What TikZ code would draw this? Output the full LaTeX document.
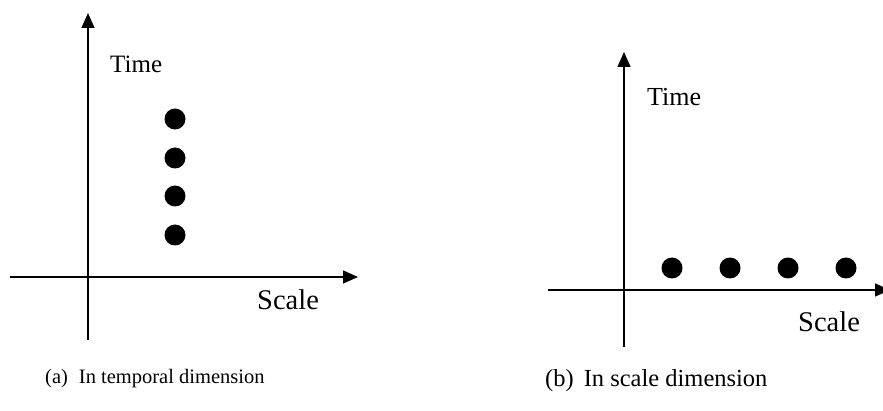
\documentclass[tikz,border=0pt]{standalone}
\usepackage{fontspec}
\setmainfont{Liberation Serif}
\usetikzlibrary{arrows.meta,positioning}

\begin{document}
\begin{tikzpicture}[
  x=1pt, y=-1pt,
  axis/.style={line width=1.4pt, -{Triangle[length=15pt,width=13pt]}},
  dot/.style={circle, fill=black, inner sep=0pt, minimum size=21pt},
  axlabel/.style={font=\fontsize{25}{27}\selectfont, inner sep=0pt},
  sclabel/.style={font=\fontsize{28.5}{30}\selectfont, inner sep=0pt},
  caption/.style={inner sep=0pt}
]
\useasboundingbox (0,0) rectangle (883,411);

% ---- (a) temporal dimension ----
\coordinate (ay0) at (88,340);
\coordinate (ay1) at (88,13);
\coordinate (ax0) at (10,277);
\coordinate (ax1) at (358,277);
\draw[axis] (ay0) -- (ay1);
\draw[axis] (ax0) -- (ax1);

\node[axlabel, anchor=west] (atime) at (110,64) {Time};
\node[sclabel, anchor=west] (ascale) at (257,300) {Scale};

\foreach \y [count=\i] in {119,158,196,235}
  \node[dot] (a\i) at (175,\y) {};

\node[caption, anchor=west, font=\fontsize{20.5}{22}\selectfont] (acap) at (45,379)
  {(a)\hspace{11pt}In temporal dimension};

% ---- (b) scale dimension ----
\coordinate (by0) at (624,347);
\coordinate (by1) at (624,52);
\coordinate (bx0) at (548,290);
\coordinate (bx1) at (890,290);
\draw[axis] (by0) -- (by1);
\draw[axis] (bx0) -- (bx1);

\node[axlabel, anchor=west, font=\fontsize{26}{28}\selectfont] (btime) at (647,97) {Time};
\node[sclabel, anchor=west] (bscale) at (798,322) {Scale};

\foreach \x [count=\i] in {672,730,788,846}
  \node[dot] (b\i) at (\x,268) {};

\node[caption, anchor=west, font=\fontsize{24.5}{26}\selectfont] (bcap) at (545,381)
  {(b)\hspace{10pt}In scale dimension};

\end{tikzpicture}
\end{document}
